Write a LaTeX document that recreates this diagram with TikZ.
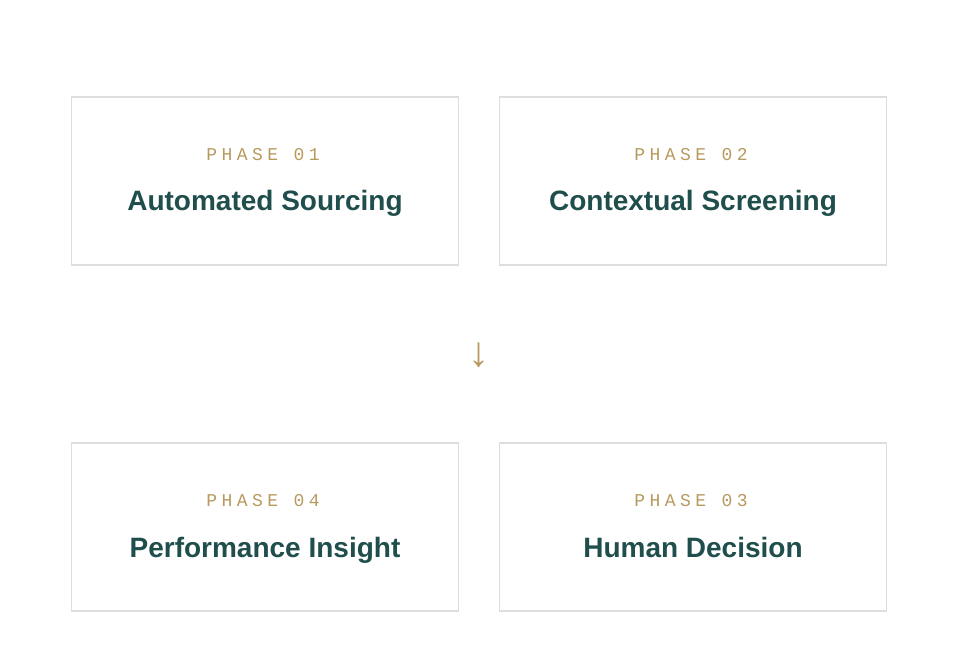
\documentclass[tikz,border=0pt]{standalone}
\usepackage{fontspec}
\setmainfont{Liberation Sans}
\newfontfamily\phasefont[LetterSpace=25]{Liberation Mono}
\newfontfamily\arrowfont{Liberation Sans}
\definecolor{gold}{HTML}{B89A5E}
\definecolor{teal}{HTML}{1F4E4D}
\definecolor{edge}{HTML}{DEDEDE}
\tikzset{
  card/.style={draw=edge, line width=1.5pt, fill=white},
  phase/.style={anchor=base, text=gold, font=\phasefont\fontsize{18}{20}\selectfont, inner sep=0pt},
  title/.style={anchor=base, text=teal, font=\bfseries\fontsize{28}{30}\selectfont, inner sep=0pt},
  arrowsym/.style={text=gold, font=\arrowfont\fontsize{42}{44}\selectfont, inner sep=0pt}
}
\begin{document}
\begin{tikzpicture}[x=1pt,y=-1pt]
\useasboundingbox (0,0) rectangle (967,663);
\fill[white] (0,0) rectangle (967,663);
% boxes
\draw[card] (71.5,97) rectangle (458.5,265) coordinate (b1);
\draw[card] (499.5,97) rectangle (886.5,265) coordinate (b2);
\draw[card] (71.5,443) rectangle (458.5,611) coordinate (b4);
\draw[card] (499.5,443) rectangle (886.5,611) coordinate (b3);
% texts
\node[phase] (p1) at (263,160.5) {PHASE 01};
\node[title] (t1) at (265,211) {Automated Sourcing};
\node[phase] (p2) at (691,160.5) {PHASE 02};
\node[title] (t2) at (693,211) {Contextual Screening};
\node[phase] (p4) at (263,506.5) {PHASE 04};
\node[title] (t4) at (265,557) {Performance Insight};
\node[phase] (p3) at (691,506.5) {PHASE 03};
\node[title] (t3) at (693,557) {Human Decision};
% arrow
\node[arrowsym] (arr) at (479,355) {↓};
\end{tikzpicture}
\end{document}
